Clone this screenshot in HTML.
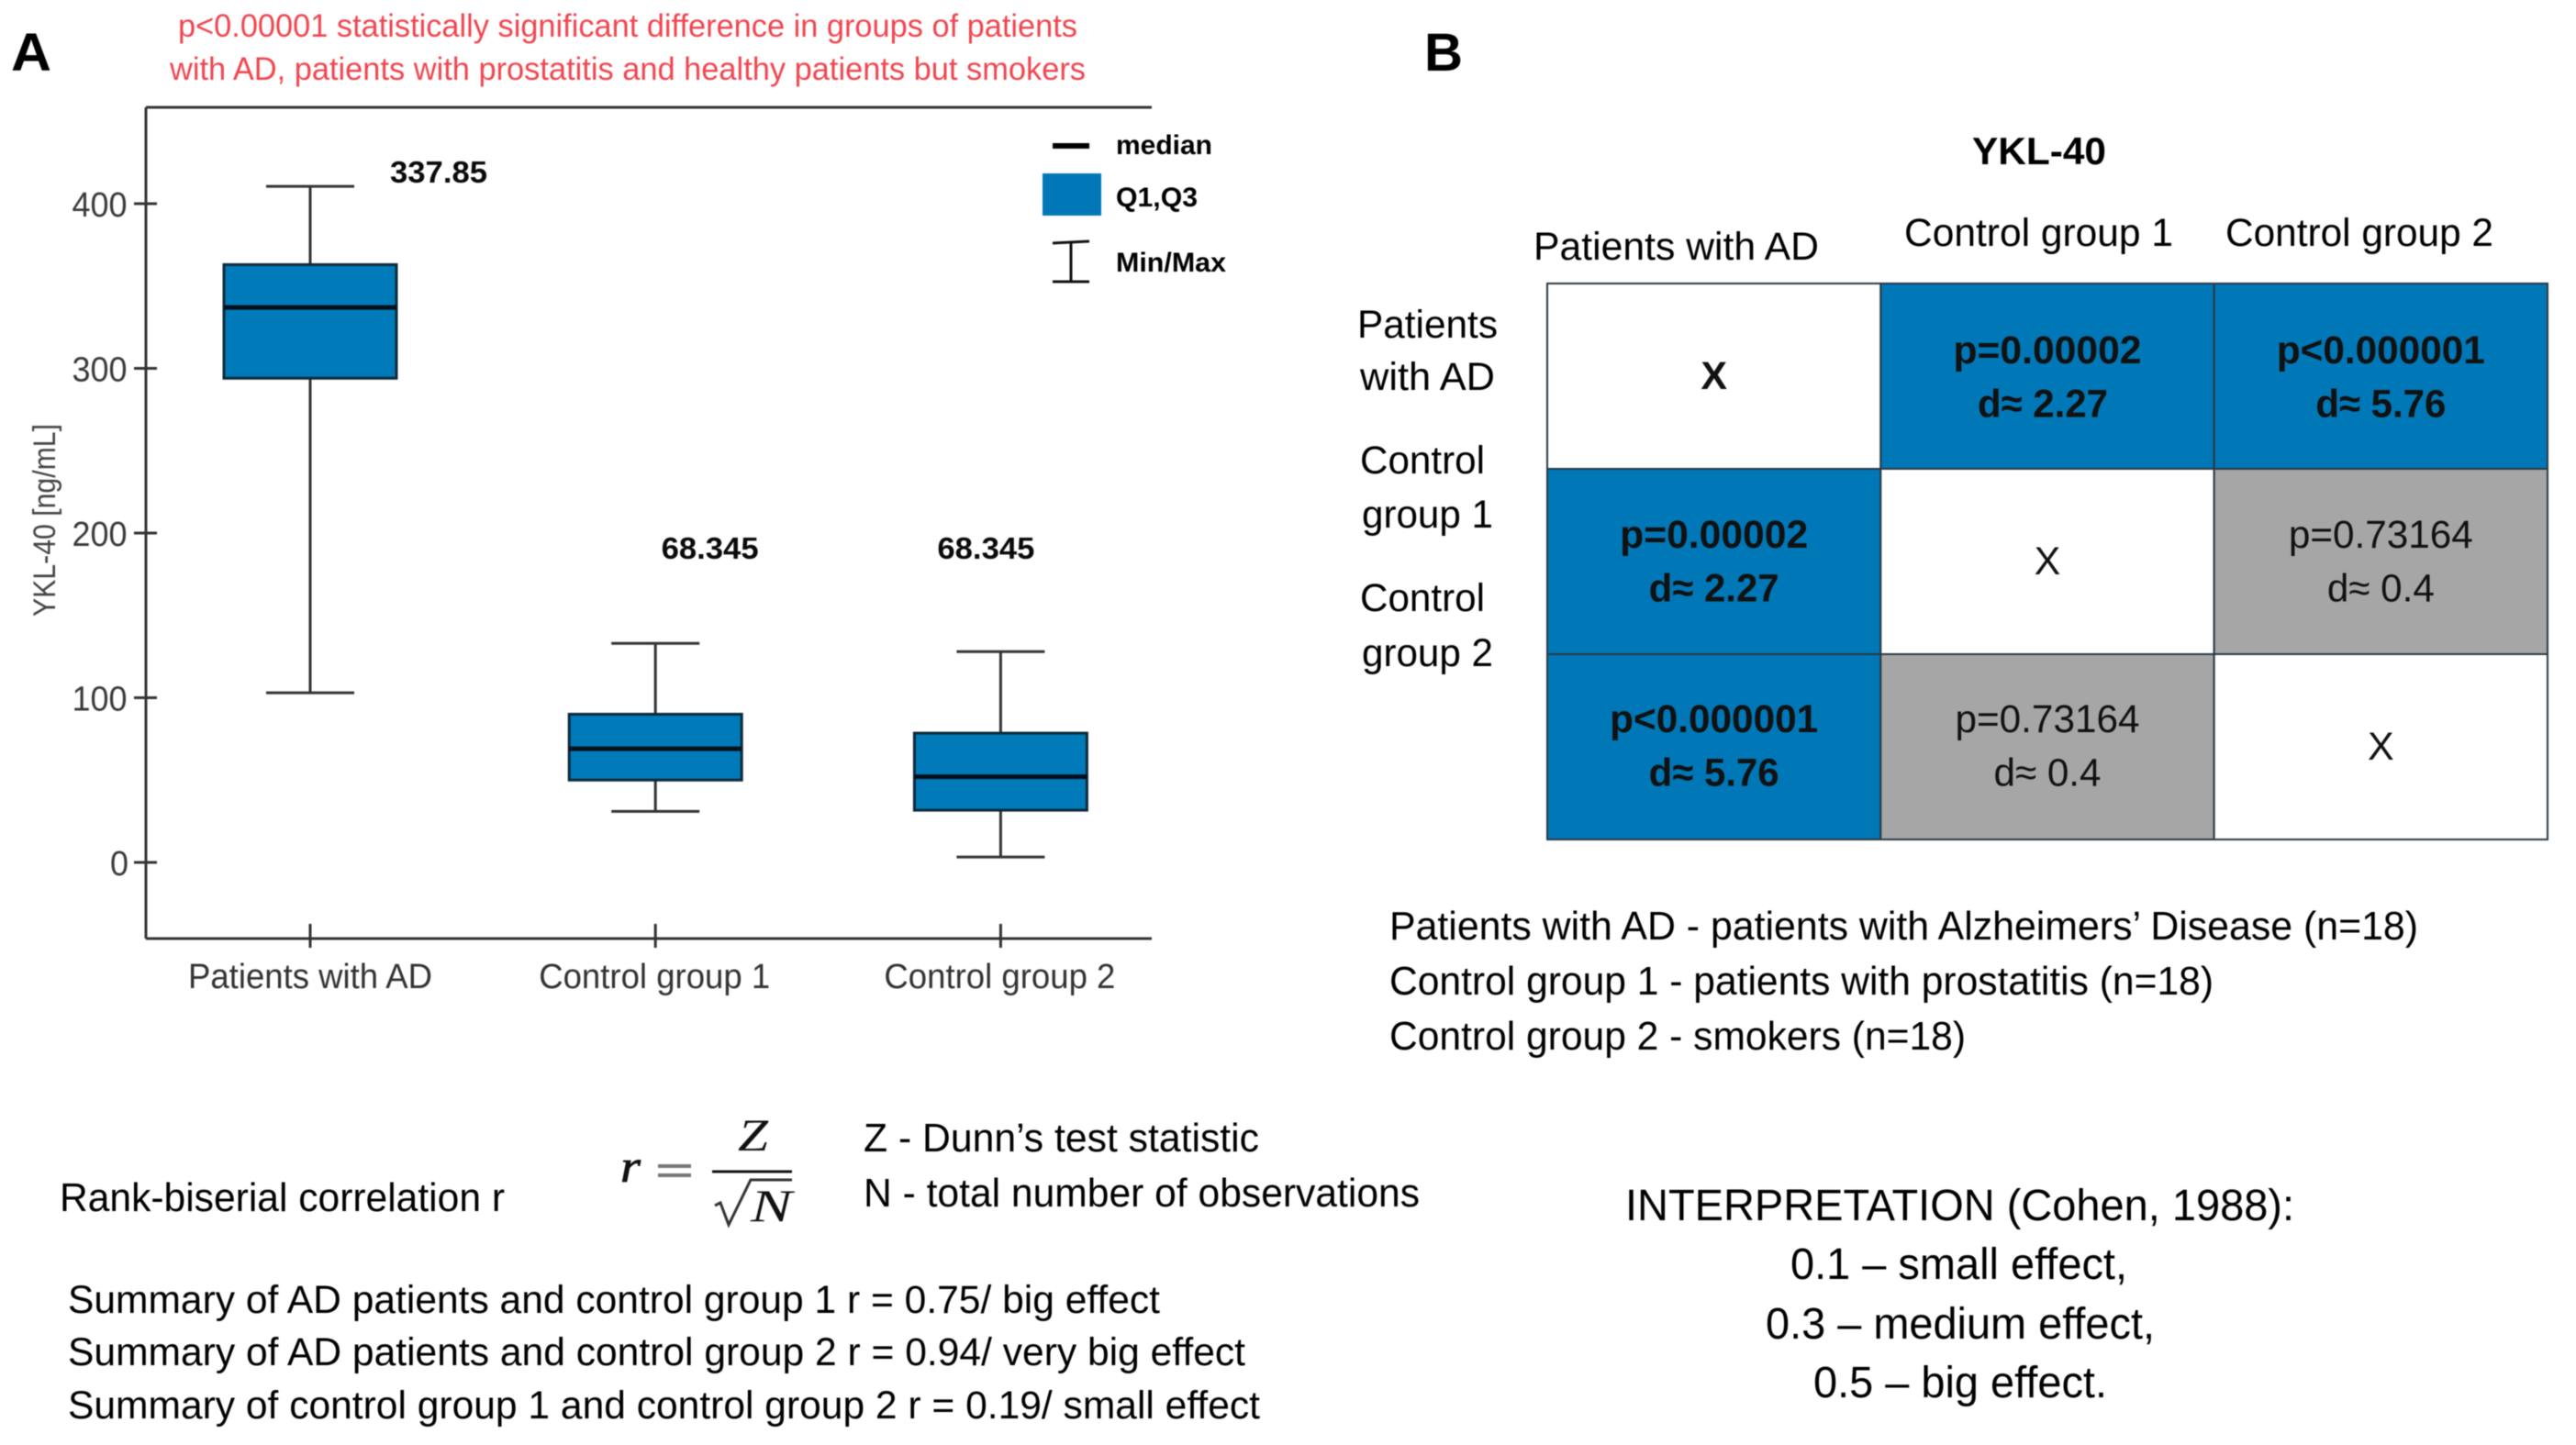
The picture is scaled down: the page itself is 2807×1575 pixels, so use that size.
<!DOCTYPE html>
<html lang="en">
<head>
<meta charset="utf-8">
<title>YKL-40 comparison between patient groups</title>
<style>
html,body{margin:0;padding:0;background:#fff;}
svg{display:block;font-family:"Liberation Sans",sans-serif;filter:blur(0.5px);}
</style>
</head>
<body>
<svg id="figure" xmlns="http://www.w3.org/2000/svg" width="2807" height="1575" viewBox="0 0 2807 1575">
  <rect x="0" y="0" width="2807" height="1575" fill="#ffffff"/>

  <text x="12" y="77" font-size="58" font-weight="700" textLength="44" lengthAdjust="spacingAndGlyphs">A</text>
  <text x="1552" y="77" font-size="58" font-weight="700" textLength="42" lengthAdjust="spacingAndGlyphs">B</text>

  <text x="194" y="40" font-size="35" fill="#f04650" textLength="980" lengthAdjust="spacingAndGlyphs">p&lt;0.00001 statistically significant difference in groups of patients</text>
  <text x="185" y="87" font-size="35" fill="#f04650" textLength="998" lengthAdjust="spacingAndGlyphs">with AD, patients with prostatitis and healthy patients but smokers</text>

  <g id="boxplot"></g>

  <text transform="translate(60,672) rotate(-90)" font-size="34" fill="#444444" textLength="210" lengthAdjust="spacingAndGlyphs">YKL-40 [ng/mL]</text>

  <g>
    <line x1="1147" y1="159" x2="1187" y2="159" stroke="#000" stroke-width="6"/>
    <text x="1216" y="168" font-size="30" font-weight="700" textLength="105" lengthAdjust="spacingAndGlyphs">median</text>
    <rect x="1136" y="189" width="64" height="46" fill="#0077b6"/>
    <text x="1216" y="225" font-size="30" font-weight="700" textLength="89" lengthAdjust="spacingAndGlyphs">Q1,Q3</text>
    <g stroke="#111" stroke-width="3">
      <line x1="1147" y1="265" x2="1187" y2="263"/>
      <line x1="1167" y1="264" x2="1167" y2="307"/>
      <line x1="1147" y1="307" x2="1187" y2="307"/>
    </g>
    <text x="1216" y="296" font-size="30" font-weight="700" textLength="120" lengthAdjust="spacingAndGlyphs">Min/Max</text>
  </g>

  <text x="2149" y="179" font-size="42" font-weight="700" textLength="146" lengthAdjust="spacingAndGlyphs">YKL-40</text>
  <text x="1671" y="283" font-size="43" textLength="311" lengthAdjust="spacingAndGlyphs">Patients with AD</text>
  <text x="2075" y="268" font-size="43" textLength="293" lengthAdjust="spacingAndGlyphs">Control group 1</text>
  <text x="2425" y="268" font-size="43" textLength="292" lengthAdjust="spacingAndGlyphs">Control group 2</text>

  <g font-size="43">
    <text x="1479" y="368" textLength="153" lengthAdjust="spacingAndGlyphs">Patients</text>
    <text x="1482" y="425" textLength="147" lengthAdjust="spacingAndGlyphs">with AD</text>
    <text x="1482" y="516" textLength="136" lengthAdjust="spacingAndGlyphs">Control</text>
    <text x="1484" y="575" textLength="143" lengthAdjust="spacingAndGlyphs">group 1</text>
    <text x="1482" y="666" textLength="136" lengthAdjust="spacingAndGlyphs">Control</text>
    <text x="1484" y="726" textLength="143" lengthAdjust="spacingAndGlyphs">group 2</text>
  </g>

  <g id="matrix"></g>

  <g font-size="44">
    <text x="1514" y="1024" textLength="1121" lengthAdjust="spacingAndGlyphs">Patients with AD - patients with Alzheimers’ Disease (n=18)</text>
    <text x="1514" y="1084" textLength="898" lengthAdjust="spacingAndGlyphs">Control group 1 - patients with prostatitis (n=18)</text>
    <text x="1514" y="1144" textLength="628" lengthAdjust="spacingAndGlyphs">Control group 2 - smokers (n=18)</text>
  </g>

  <text x="65" y="1320" font-size="44" textLength="485" lengthAdjust="spacingAndGlyphs">Rank-biserial correlation r</text>

  <g font-family="'Liberation Serif',serif" fill="#111">
    <text x="676" y="1288" font-size="50" font-style="italic" stroke="#111" stroke-width="0.8" textLength="22" lengthAdjust="spacingAndGlyphs">r</text>
    <line x1="717" y1="1271" x2="753" y2="1271" stroke="#777" stroke-width="4"/>
    <line x1="717" y1="1281" x2="753" y2="1281" stroke="#777" stroke-width="4"/>
    <text x="804" y="1254" font-size="50" font-style="italic" textLength="33" lengthAdjust="spacingAndGlyphs">Z</text>
    <line x1="776" y1="1277" x2="863" y2="1277" stroke="#111" stroke-width="3"/>
    <polyline points="779,1314 785,1311 794,1335 818,1286 863,1286" fill="none" stroke="#333" stroke-width="3"/>
    <text x="818" y="1331" font-size="50" font-style="italic" textLength="45" lengthAdjust="spacingAndGlyphs">N</text>
  </g>

  <text x="941" y="1255" font-size="44" textLength="431" lengthAdjust="spacingAndGlyphs">Z - Dunn’s test statistic</text>
  <text x="941" y="1315" font-size="44" textLength="606" lengthAdjust="spacingAndGlyphs">N - total number of observations</text>

  <g font-size="43">
    <text x="74" y="1431" textLength="1190" lengthAdjust="spacingAndGlyphs">Summary of AD patients and control group 1 r = 0.75/ big effect</text>
    <text x="74" y="1488" textLength="1283" lengthAdjust="spacingAndGlyphs">Summary of AD patients and control group 2 r = 0.94/ very big effect</text>
    <text x="74" y="1546" textLength="1299" lengthAdjust="spacingAndGlyphs">Summary of control group 1 and control group 2 r = 0.19/ small effect</text>
  </g>

  <g font-size="48">
    <text x="1771" y="1330" textLength="729" lengthAdjust="spacingAndGlyphs">INTERPRETATION (Cohen, 1988):</text>
    <text x="1951" y="1394" textLength="367" lengthAdjust="spacingAndGlyphs">0.1 – small effect,</text>
    <text x="1924" y="1459" textLength="424" lengthAdjust="spacingAndGlyphs">0.3 – medium effect,</text>
    <text x="1976" y="1523" textLength="320" lengthAdjust="spacingAndGlyphs">0.5 – big effect.</text>
  </g>
</svg>

<script>
const categories = ["Patients with AD", "Control group 1", "Control group 2"];
const minValues = [103, 31, 3.3];
const q1Values = [294, 50, 31.7];
const medianValues = [337, 69, 52];
const q3Values = [363, 90, 78.5];
const maxValues = [410.5, 133, 128];
const medianLabels = ["337.85", "68.345", "68.345"];
const yTickValues = [0, 100, 200, 300, 400];

const matrixColumns = ["Patients with AD", "Control group 1", "Control group 2"];
const matrixPValues = [
  ["X", "p=0.00002", "p<0.000001"],
  ["p=0.00002", "X", "p=0.73164"],
  ["p<0.000001", "p=0.73164", "X"]
];
const matrixDValues = [
  ["", "d≈ 2.27", "d≈ 5.76"],
  ["d≈ 2.27", "", "d≈ 0.4"],
  ["d≈ 5.76", "d≈ 0.4", ""]
];
const matrixSignificant = [
  [false, true, true],
  [true, false, false],
  [true, false, false]
];

const SVGNS = "http://www.w3.org/2000/svg";
function yScale(v) { return 940 - v * 1.795; }
function xScale(i) { return 338 + i * 376.2; }
function make(tag, parent, geometry) {
  const el = document.createElementNS(SVGNS, tag);
  for (const k in geometry) el.setAttribute(k, geometry[k]);
  parent.appendChild(el);
  return el;
}

const chart = document.getElementById("boxplot");
const AXIS_LEFT = 159, AXIS_TOP = 117, AXIS_BOTTOM = 1023, AXIS_RIGHT = 1255;
const AXIS_COLOR = "#333333";

const axisFrame = make("line", chart, {x1: AXIS_LEFT, y1: AXIS_TOP, x2: AXIS_LEFT, y2: AXIS_BOTTOM, stroke: AXIS_COLOR, "stroke-width": 3});



const topLine = make("line", chart, {x1: AXIS_LEFT, y1: AXIS_TOP, x2: AXIS_RIGHT, y2: AXIS_TOP, stroke: AXIS_COLOR, "stroke-width": 3});



const bottomLine = make("line", chart, {x1: AXIS_LEFT, y1: AXIS_BOTTOM, x2: AXIS_RIGHT, y2: AXIS_BOTTOM, stroke: AXIS_COLOR, "stroke-width": 3});



yTickValues.forEach(function (v) {
  const tick = make("line", chart, {x1: 146, y1: yScale(v), x2: 171, y2: yScale(v), stroke: AXIS_COLOR, "stroke-width": 3});
  
  
  const label = make("text", chart, {x: v === 0 ? 140 : 138.5, y: yScale(v) + 14, "text-anchor": "end", "font-size": 38, fill: "#3a3a3a", textLength: String(v).length * 20, lengthAdjust: "spacingAndGlyphs"});
  
  
  label.textContent = v;
});

categories.forEach(function (name, i) {
  const cx = xScale(i);

  const tick = make("line", chart, {x1: cx, y1: 1007, x2: cx, y2: 1033, stroke: AXIS_COLOR, "stroke-width": 3});
  
  

  const label = make("text", chart, {x: i === 0 ? cx : cx - 1, y: 1077, "text-anchor": "middle", "font-size": 38, fill: "#333333", textLength: i === 0 ? 266 : 252, lengthAdjust: "spacingAndGlyphs"});
  
  
  label.textContent = name;

  const whisker = make("line", chart, {x1: cx, y1: yScale(maxValues[i]), x2: cx, y2: yScale(minValues[i]), stroke: "#333", "stroke-width": 3});
  
  

  const capTop = make("line", chart, {x1: cx - 48, y1: yScale(maxValues[i]), x2: cx + 48, y2: yScale(maxValues[i]), stroke: "#333", "stroke-width": 3});
  
  

  const capBottom = make("line", chart, {x1: cx - 48, y1: yScale(minValues[i]), x2: cx + 48, y2: yScale(minValues[i]), stroke: "#333", "stroke-width": 3});
  
  

  const box = make("rect", chart, {x: cx - 94, y: yScale(q3Values[i]), width: 188, height: yScale(q1Values[i]) - yScale(q3Values[i]), fill: "#007ab9", stroke: "#0e2a3a", "stroke-width": 3});
  
  

  const median = make("line", chart, {x1: cx - 94, y1: yScale(medianValues[i]), x2: cx + 94, y2: yScale(medianValues[i]), stroke: "#03101c", "stroke-width": 5});
  
  

  const printed = make("text", chart, {x: i === 0 ? cx + 87 : (i === 1 ? cx + 6.4 : cx - 69), y: i === 0 ? 199 : 609, "font-size": 33, "font-weight": 700, fill: "#0a0a0a", textLength: 106, lengthAdjust: "spacingAndGlyphs"});
  
  
  printed.textContent = medianLabels[i];
});

const matrix = document.getElementById("matrix");
const MX = 1686, MY = 309, CELL_W = 363.33, CELL_H = 202;
const P_WIDTHS = {"p=0.00002": 205, "p<0.000001": 227, "p=0.73164": 201};

matrixColumns.forEach(function (_, r) {
  matrixColumns.forEach(function (_, c) {
    const x = MX + c * CELL_W, y = MY + r * CELL_H;
    const isX = r === c;
    const sig = matrixSignificant[r][c];
    const fill = isX ? "#ffffff" : (sig ? "#0077b6" : "#a6a6a6");

    const cell = make("rect", matrix, {x: x, y: y, width: CELL_W, height: CELL_H, fill: fill, stroke: "#2a3a45", "stroke-width": 2});
    
    

    const cx = x + CELL_W / 2;
    const p = matrixPValues[r][c];
    const d = matrixDValues[r][c];
    const weight = (sig || (r === 0 && c === 0)) ? 700 : 400;

    if (isX) {
      const mark = make("text", matrix, {x: cx, y: y + 115, "text-anchor": "middle", "font-size": 43, "font-weight": weight, fill: "#111"});
      
      
      mark.textContent = p;
    } else {
      const pText = make("text", matrix, {x: cx, y: y + 87 - r, "text-anchor": "middle", "font-size": 43, "font-weight": weight, fill: "#111", textLength: P_WIDTHS[p], lengthAdjust: "spacingAndGlyphs"});
      
      
      pText.textContent = p;

      const dText = make("text", matrix, {x: r === 0 && c === 1 ? cx - 5 : cx, y: y + 145.5 - r, "text-anchor": "middle", "font-size": 43, "font-weight": weight, fill: "#111", textLength: sig ? 142 : 117, lengthAdjust: "spacingAndGlyphs"});
      
      
      dText.textContent = d;
    }
  });
});
</script>
</body>
</html>
